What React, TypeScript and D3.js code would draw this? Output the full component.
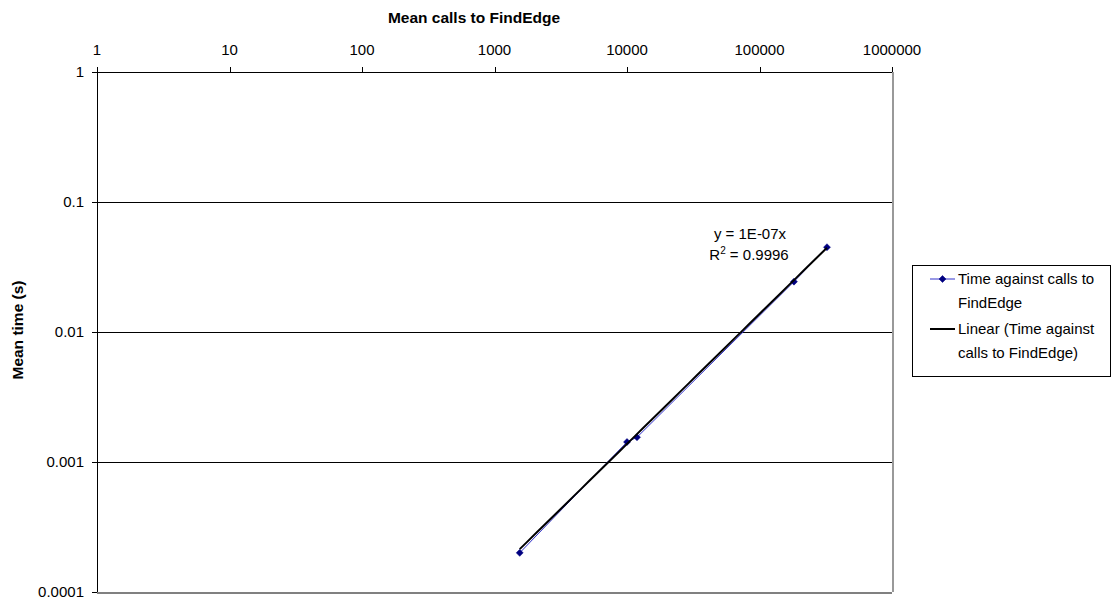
import React from "react";
import * as d3 from "d3";

// Mean number of FindEdge calls and mean time per run (s)
const meanCalls: number[] = [1550, 10000, 11900, 182000, 323000];
const meanTime: number[] = [0.0002, 0.001425, 0.00155, 0.0244, 0.0449];

const xTicks: number[] = [1, 10, 100, 1000, 10000, 100000, 1000000];
const yTicks: number[] = [1, 0.1, 0.01, 0.001, 0.0001];
const yTickLabels: string[] = ["1", "0.1", "0.01", "0.001", "0.0001"];

const trendEquation = "y = 1E-07x";
const trendR2 = "0.9996";

const seriesName = ["Time against calls to", "FindEdge"];
const trendName = ["Linear (Time against", "calls to FindEdge)"];

const W = 1113;
const H = 601;
const FONT = "'Liberation Sans', Arial, sans-serif";

export default function App() {
  const left = 97;
  const right = 892;
  const top = 72;
  const bottom = 592;

  const x = d3.scaleLog().domain([1, 1000000]).range([left, right]);
  const y = d3.scaleLog().domain([0.0001, 1]).range([bottom, top]);

  const pts = meanCalls.map((c, i) => ({ c, t: meanTime[i] }));

  // Least-squares slope through the origin for the linear trend
  const sxy = d3.sum(pts, (p) => p.c * p.t);
  const sxx = d3.sum(pts, (p) => p.c * p.c);
  const slope = sxy / sxx;
  const xMin = d3.min(meanCalls) as number;
  const xMax = d3.max(meanCalls) as number;
  const trendPts: [number, number][] = d3
    .range(0, 41)
    .map((i) => xMin * Math.pow(xMax / xMin, i / 40))
    .map((c) => [c, slope * c]);

  const line = d3
    .line<[number, number]>()
    .x((d) => x(d[0]))
    .y((d) => y(d[1]));

  const dataPath = line(pts.map((p) => [p.c, p.t]));
  const trendPath = line(trendPts);

  const diamond = (cx: number, cy: number, r = 3.5) =>
    `M${cx},${cy - r}L${cx + r},${cy}L${cx},${cy + r}L${cx - r},${cy}Z`;

  const navy = "#000080";
  const blue = "#3333cc";
  const crisp = "crispEdges";

  return (
    <svg
      width={W}
      height={H}
      style={{ position: "absolute", left: 0, top: 0, background: "#fff" }}
      fontFamily={FONT}
    >
      <rect x={0} y={0} width={W} height={H} fill="#fff" />

      {/* horizontal gridlines */}
      {yTicks.slice(1, -1).map((t) => (
        <line key={t} x1={left} x2={right} y1={y(t) + 0.5} y2={y(t) + 0.5} stroke="#000" strokeWidth={1} shapeRendering={crisp} />
      ))}

      {/* plot area border (right and bottom) */}
      <line x1={right + 0.5} x2={right + 0.5} y1={top} y2={bottom} stroke="#999" strokeWidth={2} shapeRendering={crisp} />
      <line x1={left} x2={right} y1={bottom + 0.5} y2={bottom + 0.5} stroke="#808080" strokeWidth={2} shapeRendering={crisp} />

      {/* y axis */}
      <line x1={left + 0.5} x2={left + 0.5} y1={top} y2={bottom} stroke="#000" strokeWidth={1} shapeRendering={crisp} />
      {yTicks.map((t, i) => (
        <g key={t}>
          <line x1={left - 5} x2={left} y1={y(t) + 0.5} y2={y(t) + 0.5} stroke="#000" shapeRendering={crisp} />
          <text x={left - 13} y={y(t)} dy="0.35em" textAnchor="end" fontSize={15} fill="#000">
            {yTickLabels[i]}
          </text>
        </g>
      ))}

      {/* x axis along the top */}
      <line x1={left} x2={right} y1={top + 0.5} y2={top + 0.5} stroke="#000" strokeWidth={1} shapeRendering={crisp} />
      {xTicks.map((t) => (
        <g key={t}>
          <line x1={x(t) + 0.5} x2={x(t) + 0.5} y1={top - 5} y2={top} stroke="#000" shapeRendering={crisp} />
          <text x={x(t)} y={50} dy="0.35em" textAnchor="middle" fontSize={15} fill="#000">
            {d3.format("d")(t)}
          </text>
        </g>
      ))}

      {/* axis titles */}
      <text x={474} y={18} dy="0.35em" textAnchor="middle" fontSize={15.5} fontWeight="bold">
        Mean calls to FindEdge
      </text>
      <text
        transform={`translate(18,330) rotate(-90)`}
        dy="0.35em"
        textAnchor="middle"
        fontSize={15.5}
        fontWeight="bold"
      >
        Mean time (s)
      </text>

      {/* data series */}
      <path d={dataPath ?? ""} fill="none" stroke={blue} strokeWidth={1} />
      {pts.map((p, i) => (
        <path key={i} d={diamond(x(p.c), y(p.t))} fill={navy} stroke={navy} strokeWidth={0.5} />
      ))}

      {/* linear trendline */}
      <path d={trendPath ?? ""} fill="none" stroke="#000" strokeWidth={2} />

      {/* trendline label */}
      <text x={750} y={234} dy="0.35em" textAnchor="middle" fontSize={15}>
        {trendEquation}
      </text>
      <text x={749} y={255} dy="0.35em" textAnchor="middle" fontSize={15}>
        R<tspan fontSize={10} dy="-6">2</tspan>
        <tspan dy="6"> = {trendR2}</tspan>
      </text>

      {/* legend */}
      <rect x={912.5} y={265.5} width={198} height={111} fill="#fff" stroke="#000" strokeWidth={1} />
      <line x1={930} x2={955} y1={279} y2={279} stroke={blue} strokeWidth={1} />
      <path d={diamond(942.5, 279)} fill={navy} stroke={navy} strokeWidth={0.5} />
      {seriesName.map((s, i) => (
        <text key={s} x={958} y={279 + i * 24} dy="0.35em" fontSize={15}>
          {s}
        </text>
      ))}
      <line x1={930} x2={955} y1={329} y2={329} stroke="#000" strokeWidth={2} />
      {trendName.map((s, i) => (
        <text key={s} x={958} y={329 + i * 24} dy="0.35em" fontSize={15}>
          {s}
        </text>
      ))}
    </svg>
  );
}
